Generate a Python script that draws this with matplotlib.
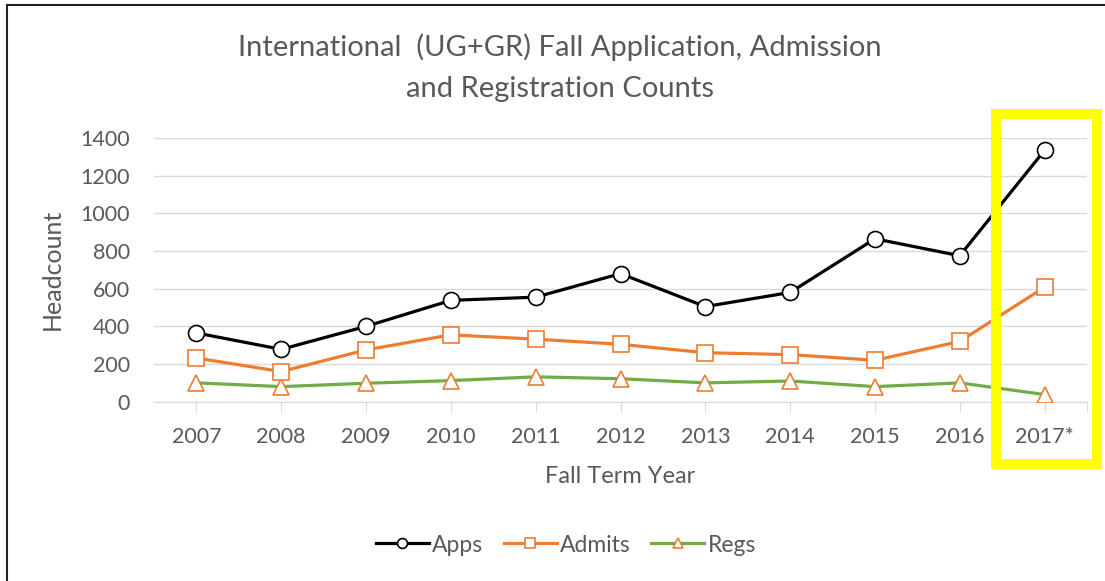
import numpy as np
import matplotlib
matplotlib.use("Agg")
import matplotlib.pyplot as plt
from matplotlib.patches import Rectangle
from matplotlib.lines import Line2D

years = ["2007", "2008", "2009", "2010", "2011", "2012", "2013", "2014", "2015", "2016", "2017*"]
apps = [365, 278, 400, 538, 555, 680, 505, 580, 865, 775, 1335]
admits = [232, 160, 275, 355, 332, 305, 260, 250, 220, 320, 608]
regs = [100, 80, 98, 112, 132, 122, 100, 110, 80, 100, 38]

plt.rcParams['font.family'] = ['Lato', 'DejaVu Sans']
grey = '#595959'
orange = '#ED7D31'
green = '#70AD47'

W, H = 1105, 581
fig = plt.figure(figsize=(W / 100, H / 100), dpi=100)
fig.patch.set_facecolor('white')
ax = fig.add_axes([154 / W, (H - 401.7) / H, (1087 - 154) / W, (401.7 - 138) / H])

x = np.arange(len(years))
ax.plot(x, apps, color='black', lw=2.3, marker='o', ms=11.5, mfc='white',
        mec='black', mew=1.2, label='Apps', zorder=5)
ax.plot(x, admits, color=orange, lw=2.3, marker='s', ms=11, mfc='white',
        mec=orange, mew=1.2, label='Admits', zorder=4)
ax.plot(x, regs, color=green, lw=2.3, marker='^', ms=12, mfc='white',
        mec=orange, mew=1.2, label='Regs', zorder=3)

ax.set_xlim(-0.5, len(years) - 0.5)
ax.set_ylim(0, 1400)
ax.set_yticks(np.arange(0, 1401, 200))
ax.set_xticks(x)
ax.set_xticklabels(years)
ax.set_xticks([len(years) - 0.5], minor=True)
ax.grid(axis='y', color='#D9D9D9', lw=1)
ax.set_axisbelow(True)
for s in ['top', 'right', 'left']:
    ax.spines[s].set_visible(False)
ax.spines['bottom'].set_color('#D9D9D9')
ax.tick_params(axis='y', length=0, pad=17.5, labelsize=15.5, labelcolor=grey)
ax.tick_params(axis='x', which='both', length=7, color='#D9D9D9', pad=11,
               labelsize=15.5, labelcolor=grey)

ax.set_xlabel('Fall Term Year', fontsize=17, color=grey, labelpad=14)
ax.set_ylabel('Headcount', fontsize=18, color=grey, labelpad=12)

fig.text(560 / W, 1 - 67.5 / H,
         'International  (UG+GR) Fall Application, Admission\nand Registration Counts',
         ha='center', va='center', fontsize=21, color=grey, linespacing=1.7)

fig.legend(loc='center', bbox_to_anchor=(566 / W, 1 - 545 / H), ncol=3, frameon=False,
           fontsize=16.5, labelcolor=grey, handlelength=2.3, markerscale=0.62,
           columnspacing=0.9, handletextpad=0.15)

# yellow highlight box around 2017
fig.add_artist(Rectangle((995.5 / W, (H - 464.3) / H), 101 / W, 350 / H,
                         transform=fig.transFigure, fill=False, ec='#FFFF00', lw=7.2))

# screenshot border on left and top
fig.add_artist(Line2D([7 / W, 7 / W], [0, 1 - 5 / H], transform=fig.transFigure,
                      color='#222222', lw=1.5))
fig.add_artist(Line2D([7 / W, 1], [1 - 5 / H, 1 - 5 / H], transform=fig.transFigure,
                      color='#222222', lw=1.5))

fig.savefig('out.png', dpi=100)
